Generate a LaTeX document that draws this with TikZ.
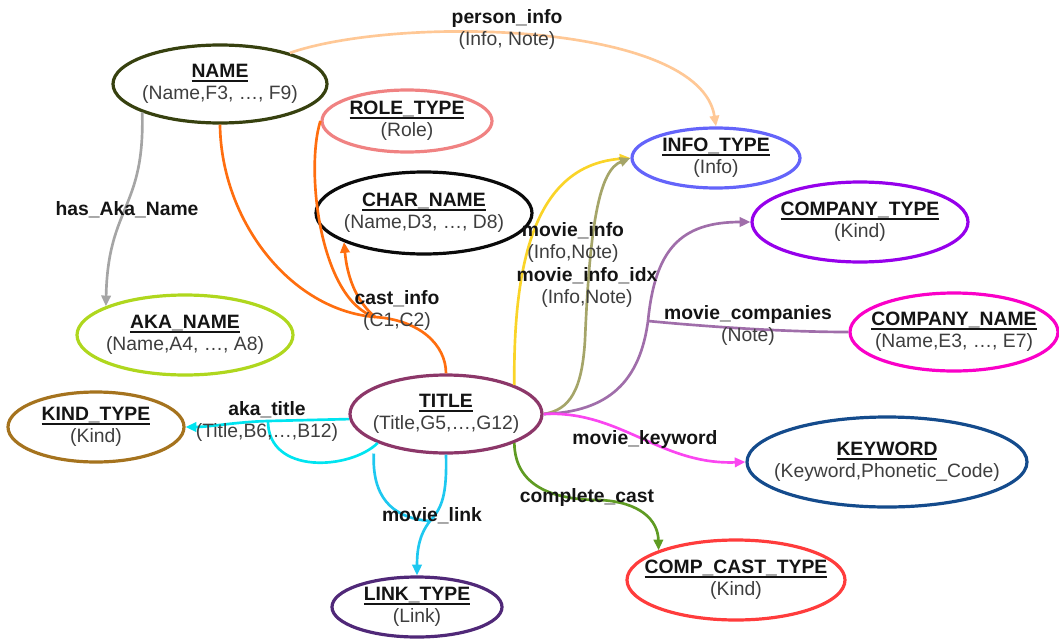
\documentclass[tikz,border=0pt]{standalone}
\usepackage{fontspec}
\setmainfont{Liberation Sans}
\usetikzlibrary{shapes.geometric,arrows.meta}

% entity outlines
\definecolor{cName}{RGB}{55,65,15}
\definecolor{cRole}{RGB}{240,130,130}
\definecolor{cChar}{RGB}{10,10,10}
\definecolor{cInfo}{RGB}{100,100,250}
\definecolor{cCompT}{RGB}{150,0,235}
\definecolor{cCompN}{RGB}{250,0,200}
\definecolor{cAkaN}{RGB}{175,215,30}
\definecolor{cKind}{RGB}{165,115,30}
\definecolor{cTitle}{RGB}{140,55,105}
\definecolor{cKey}{RGB}{20,75,140}
\definecolor{cCCT}{RGB}{255,60,60}
\definecolor{cLink}{RGB}{80,40,120}
% relationship lines
\definecolor{ePers}{RGB}{255,200,150}
\definecolor{eAka}{RGB}{165,165,165}
\definecolor{eCast}{RGB}{255,110,15}
\definecolor{eMInfo}{RGB}{250,212,40}
\definecolor{eMIdx}{RGB}{165,165,105}
\definecolor{eMComp}{RGB}{160,110,170}
\definecolor{eMKey}{RGB}{250,70,240}
\definecolor{eCC}{RGB}{95,155,35}
\definecolor{eAT}{RGB}{0,228,240}
\definecolor{eML}{RGB}{30,200,240}
% text
\definecolor{cTxt}{RGB}{20,20,20}
\definecolor{cAttr}{RGB}{62,62,62}

\newcommand\enttitle[1]{\setbox0=\hbox{\bfseries #1}\rlap{\rule[-3.1pt]{\wd0}{1.15pt}}\box0}
\newcommand\attrtxt[1]{{\color{cAttr}#1}}

\tikzset{
  ent/.style={ellipse, draw, line width=2.4pt, inner sep=0pt},
  dims/.style 2 args={minimum width=#1*1.5pt, minimum height=#2*1.5pt},
  txt/.style={align=center, inner sep=0pt, text=cTxt, font=\fontsize{14.5}{16.5}\selectfont},
  rel/.style={line width=2pt},
  arr/.style={-{Triangle[length=8pt,width=7pt]}},
}

\begin{document}
\begin{tikzpicture}[x=0.75pt,y=-0.75pt]
\useasboundingbox (0,0) rectangle (1059,639);

% ---- entities (outlines) ----
\node[ent, dims={107}{39}, draw=cName]  (name)     at (220,84)  {};
\node[ent, dims={85}{31},  draw=cRole]  (roleType) at (407,121) {};
\node[ent, dims={108}{41}, draw=cChar]  (charName) at (424,213) {};
\node[ent, dims={84}{30},  draw=cInfo]  (infoType) at (716,158) {};
\node[ent, dims={108}{40}, draw=cCompT] (compType) at (860,222) {};
\node[ent, dims={104}{39}, draw=cCompN] (compName) at (954,332) {};
\node[ent, dims={108}{40}, draw=cAkaN]  (akaName)  at (185,335) {};
\node[ent, dims={88}{35},  draw=cKind]  (kindType) at (96,427)  {};
\node[ent, dims={96}{39},  draw=cTitle] (title)    at (446,414) {};
\node[ent, dims={140}{45}, draw=cKey]   (keyword)  at (887,462) {};
\node[ent, dims={109}{40}, draw=cCCT]   (compCast) at (736,580) {};
\node[ent, dims={85}{30},  draw=cLink]  (linkType) at (417,607) {};

% ---- relationships ----
% person_info
\draw[rel, draw=ePers, arr] (name.24) .. controls (400,15) and (700,22) .. (infoType.north);
% has_Aka_Name
\draw[rel, draw=eAka, arr] (name.200) .. controls (145,210) and (108,205) .. (akaName.160);
% cast_info
\coordinate (castJ) at (375,317);
\draw[rel, draw=eCast] (title.north) .. controls (446,345) and (420,320) .. (castJ);
\draw[rel, draw=eCast] (castJ) .. controls (290,310) and (221,220) .. (name.south);
\draw[rel, draw=eCast] (castJ) .. controls (320,300) and (305,170) .. (roleType.west);
\draw[rel, draw=eCast, arr] (castJ) .. controls (355,300) and (347,275) .. (charName.200);
% movie_info
\draw[rel, draw=eMInfo, arr] (title.23) .. controls (513,250) and (540,165) .. (infoType.west);
% movie_info_idx
\draw[rel, draw=eMIdx, arr] (title.east) .. controls (570,410) and (582,390) .. (585,340)
      .. controls (590,220) and (600,170) .. (infoType.west);
% movie_companies
\coordinate (compJ) at (648,321);
\draw[rel, draw=eMComp, arr] (title.east) .. controls (610,412) and (640,380) .. (compJ)
      .. controls (655,250) and (680,222) .. (compType.west);
\draw[rel, draw=eMComp] (compJ) .. controls (700,326) and (780,332) .. (compName.west);
% movie_keyword
\draw[rel, draw=eMKey, arr] (title.east) .. controls (620,410) and (660,465) .. (keyword.west);
% complete_cast
\draw[rel, draw=eCC, arr] (title.-23) .. controls (515,490) and (560,500) .. (600,500)
      .. controls (640,502) and (658,520) .. (compCast.159);
% aka_title
\coordinate (akaJ) at (268,421);
\draw[rel, draw=eAT, arr] (title.183) -- (akaJ) .. controls (235,422) and (210,427) .. (kindType.east);
\draw[rel, draw=eAT] (title.203) .. controls (350,470) and (268,475) .. (akaJ);
% movie_link
\coordinate (linkJ) at (430,521);
\draw[rel, draw=eML, arr] (title.south) .. controls (447,495) and (442,508) .. (linkJ)
      .. controls (419,535) and (417,550) .. (linkType.north);
\draw[rel, draw=eML, shorten <=9pt] (title.201) .. controls (372,495) and (390,518) .. (linkJ);

% ---- entity texts ----
\node[txt] (t-name)     at (name)     {\enttitle{NAME}\\\attrtxt{(Name,F3, …, F9)}};
\node[txt] (t-roleType) at (roleType) {\enttitle{ROLE\_TYPE}\\\attrtxt{(Role)}};
\node[txt] (t-charName) at (charName) {\enttitle{CHAR\_NAME}\\\attrtxt{(Name,D3, …, D8)}};
\node[txt] (t-infoType) at (infoType) {\enttitle{INFO\_TYPE}\\\attrtxt{(Info)}};
\node[txt] (t-compType) at (compType) {\enttitle{COMPANY\_TYPE}\\\attrtxt{(Kind)}};
\node[txt] (t-compName) at (compName) {\enttitle{COMPANY\_NAME}\\\attrtxt{(Name,E3, …, E7)}};
\node[txt] (t-akaName)  at (akaName)  {\enttitle{AKA\_NAME}\\\attrtxt{(Name,A4, …, A8)}};
\node[txt] (t-kindType) at (kindType) {\enttitle{KIND\_TYPE}\\\attrtxt{(Kind)}};
\node[txt] (t-title)    at (title)    {\enttitle{TITLE}\\\attrtxt{(Title,G5,…,G12)}};
\node[txt] (t-keyword)  at (keyword)  {\enttitle{KEYWORD}\\\attrtxt{(Keyword,Phonetic\_Code)}};
\node[txt] (t-compCast) at (compCast) {\enttitle{COMP\_CAST\_TYPE}\\\attrtxt{(Kind)}};
\node[txt] (t-linkType) at (linkType) {\enttitle{LINK\_TYPE}\\\attrtxt{(Link)}};

% ---- relationship labels ----
\node[txt] (l-pers)  at (507,29)  {\textbf{person\_info}\\\attrtxt{(Info, Note)}};
\node[txt] (l-aka)   at (127,210) {\textbf{has\_Aka\_Name}};
\node[txt] (l-minfo) at (573,242) {\textbf{movie\_info}\\\attrtxt{(Info,Note)}};
\node[txt] (l-midx)  at (587,287) {\textbf{movie\_info\_idx}\\\attrtxt{(Info,Note)}};
\node[txt] (l-cast)  at (397,310) {\textbf{cast\_info}\\\attrtxt{(C1,C2)}};
\node[txt] (l-mcomp) at (748,325) {\textbf{movie\_companies}\\\attrtxt{(Note)}};
\node[txt] (l-atit)  at (267,421) {\textbf{aka\_title}\\\attrtxt{(Title,B6,…,B12)}};
\node[txt] (l-mkey)  at (645,439) {\textbf{movie\_keyword}};
\node[txt] (l-cc)    at (587,497) {\textbf{complete\_cast}};
\node[txt] (l-mlink) at (432,516) {\textbf{movie\_link}};
\end{tikzpicture}
\end{document}
